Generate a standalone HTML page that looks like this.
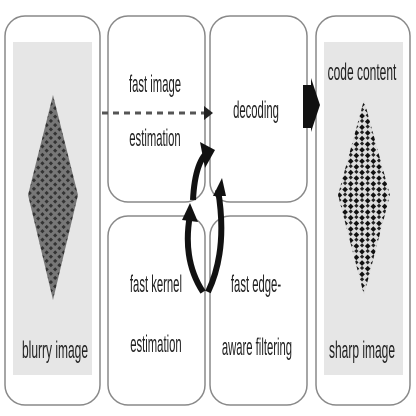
<!DOCTYPE html>
<html><head><meta charset="utf-8"><style>
body{margin:0;width:416px;height:416px;background:#fff;overflow:hidden}
svg{display:block}
text{font-family:"Liberation Sans",sans-serif;font-size:24px;fill:#222;text-anchor:middle}
</style></head><body>
<svg width="416" height="416" viewBox="0 0 416 416">
<defs>
<pattern id="qr" width="8" height="8" patternUnits="userSpaceOnUse" patternTransform="rotate(45)">
<rect width="8" height="8" fill="#ddd"/><rect width="4" height="4" fill="#111"/><rect x="4" y="4" width="3" height="3" fill="#222"/>
</pattern>
<pattern id="qrb" width="6" height="6" patternUnits="userSpaceOnUse" patternTransform="rotate(45)">
<rect width="6" height="6" fill="#777"/><rect width="3" height="3" fill="#333"/>
</pattern>
</defs>
<g fill="none" stroke="#888" stroke-width="1.5">
<rect x="5" y="16" width="95" height="389" rx="20"/>
<rect x="108" y="16" width="97" height="186" rx="20"/>
<rect x="108" y="216" width="97" height="189" rx="20"/>
<rect x="210" y="16" width="97" height="186" rx="20"/>
<rect x="210" y="216" width="97" height="189" rx="20"/>
<rect x="316" y="16" width="94" height="389" rx="20"/>
</g>
<rect x="13" y="42" width="79" height="333" fill="#e6e6e6"/>
<rect x="324" y="42" width="79" height="333" fill="#e6e6e6"/>
<polygon points="53,95 78,195 53,300 28,195" fill="url(#qrb)"/>
<polygon points="364,100 390,195 364,295 338,195" fill="url(#qr)"/>
<text x="55" y="358" transform="translate(55 0) scale(0.5 1) translate(-55 0)">blurry image</text>
<text x="362" y="358" transform="translate(362 0) scale(0.5 1) translate(-362 0)">sharp image</text>
<text x="362" y="80" transform="translate(362 0) scale(0.5 1) translate(-362 0)">code content</text>
<g transform="translate(155 0) scale(0.47 1) translate(-155 0)">
<text x="155" y="92">fast image</text>
<text x="155" y="146">estimation</text>
<text x="157" y="292">fast kernel</text>
<text x="157" y="352">estimation</text>
</g>
<g transform="translate(256 0) scale(0.47 1) translate(-256 0)">
<text x="256" y="118">decoding</text>
<text x="256" y="292">fast edge-</text>
<text x="258" y="355">aware filtering</text>
</g>
<line x1="102" y1="113" x2="206" y2="113" stroke="#555" stroke-width="3" stroke-dasharray="6,5"/>
<polygon points="204,106 213,113 204,120" fill="#222"/>
<polygon points="303,85 311,85 311,78 320,105 311,132 311,128 303,128" fill="#111"/>
<g fill="none" stroke="#111" stroke-width="6">
<path d="M193 200 Q195 160 210 150"/>
<path d="M218 190 Q228 250 208 292"/>
<path d="M203 292 Q182 260 190 215"/>
</g>
<polygon points="200,142 215,150 205,168" fill="#111"/>
<polygon points="213,196 222,178 226,196" fill="#111"/>
<polygon points="182,220 190,203 198,222" fill="#111"/>
</svg>
</body></html>
